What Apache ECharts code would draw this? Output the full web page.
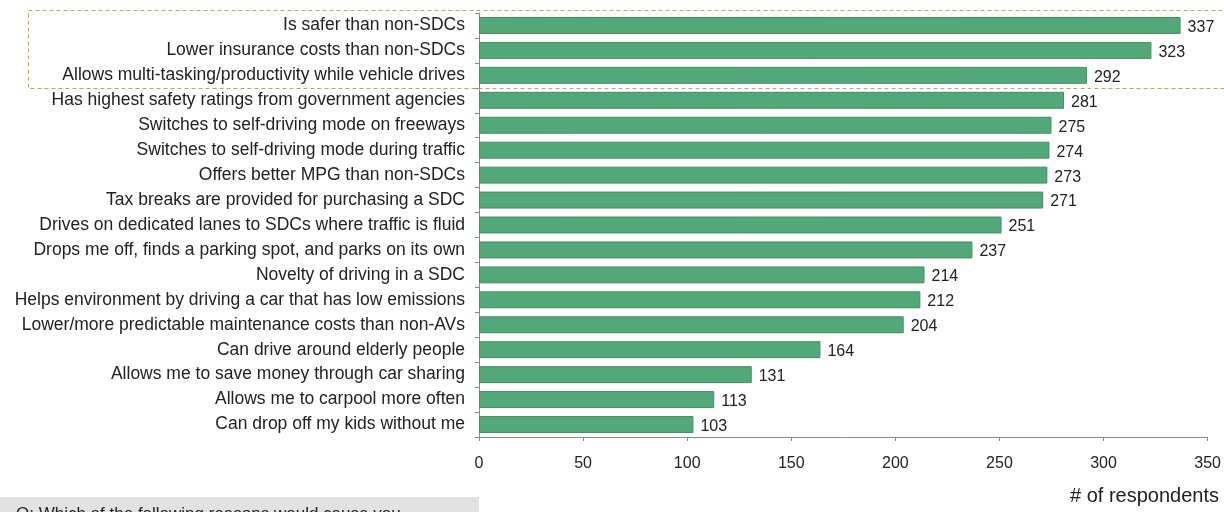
<!DOCTYPE html>
<html>
<head>
<meta charset="utf-8">
<script src="https://cdn.jsdelivr.net/npm/echarts@6/dist/echarts.min.js"></script>
<style>
  html, body { margin: 0; padding: 0; background: #fff; }
  #chart { width: 1224px; height: 512px; }
</style>
</head>
<body>
<div id="chart"></div>
<script>
// top to bottom order as in the picture
const categories = [
  "Is safer than non-SDCs",
  "Lower insurance costs than non-SDCs",
  "Allows multi-tasking/productivity while vehicle drives",
  "Has highest safety ratings from government agencies",
  "Switches to self-driving mode on freeways",
  "Switches to self-driving mode during traffic",
  "Offers better MPG than non-SDCs",
  "Tax breaks are provided for purchasing a SDC",
  "Drives on dedicated lanes to SDCs where traffic is fluid",
  "Drops me off, finds a parking spot, and parks on its own",
  "Novelty of driving in a SDC",
  "Helps environment by driving a car that has low emissions",
  "Lower/more predictable maintenance costs than non-AVs",
  "Can drive around elderly people",
  "Allows me to save money through car sharing",
  "Allows me to carpool more often",
  "Can drop off my kids without me"
];
const respondents = [337, 323, 292, 281, 275, 274, 273, 271, 251, 237, 214, 212, 204, 164, 131, 113, 103];

const font = "Liberation Sans, Arial, sans-serif";
const chart = echarts.init(document.getElementById("chart"));
chart.setOption({
  animation: false,
  textStyle: { fontFamily: font },
  grid: { left: 479, right: 15, top: 13, bottom: 75, containLabel: false },
  xAxis: {
    type: "value",
    min: 0,
    max: 350,
    interval: 50,
    splitLine: { show: false },
    axisLine: { show: true, lineStyle: { color: "#888" } },
    axisTick: { show: true, length: 4, lineStyle: { color: "#888" } },
    axisLabel: { color: "#222", fontSize: 16, margin: 19 }
  },
  yAxis: {
    type: "category",
    inverse: true,
    data: categories,
    axisLine: { show: true, lineStyle: { color: "#888" } },
    axisTick: { show: true, length: 4, lineStyle: { color: "#888" } },
    axisLabel: { color: "#222", fontSize: 17.5, margin: 14 }
  },
  series: [{
    type: "bar",
    data: respondents,
    barCategoryGap: "32%",
    itemStyle: { color: "#52a878", borderColor: "#4a8a62", borderWidth: 1 },
    label: { show: true, position: "right", color: "#222", fontSize: 16, distance: 7, offset: [0, 2] }
  }],
  graphic: [
    {
      type: "rect",
      shape: { x: 28.5, y: 10.5, width: 1210, height: 78 },
      style: { fill: "none", stroke: "#c9a25a", lineWidth: 1, lineDash: [4, 3] },
      z: 10
    },
    {
      type: "rect",
      shape: { x: 0, y: 497, width: 479, height: 20 },
      style: { fill: "#e2e2e2" }
    },
    {
      type: "text",
      left: 16, top: 506,
      style: { text: "Q: Which of the following reasons would cause you", fill: "#222", fontSize: 17, fontFamily: font }
    },
    {
      type: "text",
      right: 5, top: 486,
      style: { text: "# of respondents", fill: "#222", fontSize: 20, fontFamily: font }
    }
  ]
});
</script>
</body>
</html>
